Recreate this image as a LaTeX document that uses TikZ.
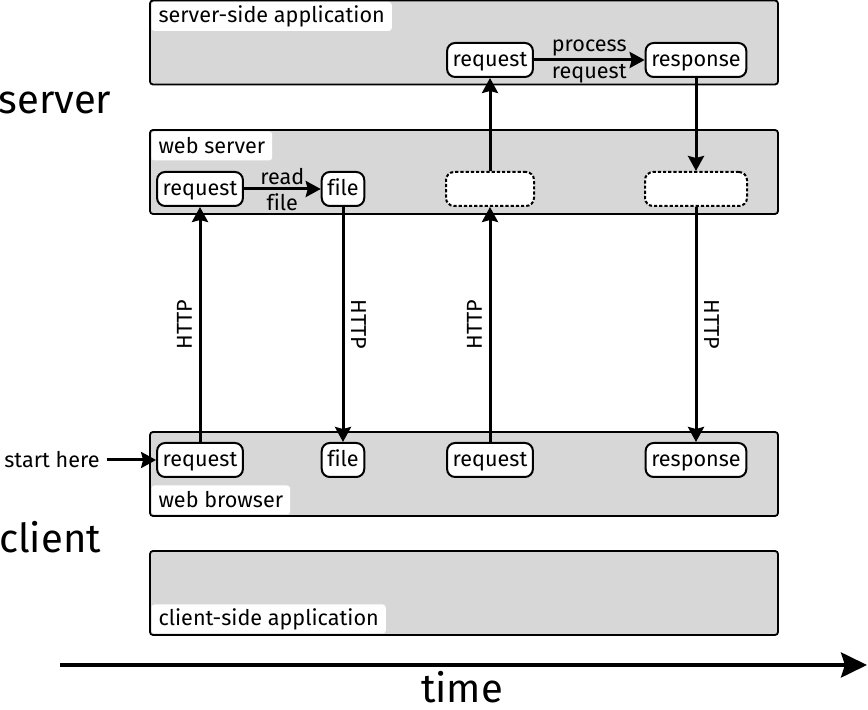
\documentclass[tikz,border=0pt]{standalone}
\usepackage{xcolor}
\usepackage{fontspec}
\setmainfont[Ligatures=NoCommon]{Fira Sans}
\usepackage{tikz}
\usetikzlibrary{arrows.meta, positioning}
\definecolor{lanegray}{RGB}{215,215,215}

\begin{document}
\begin{tikzpicture}[x=0.5pt, y=-0.5pt,
    font=\fontsize{10.8}{12}\selectfont,
    lane/.style={draw, rectangle, rounded corners=1.5pt, fill=lanegray, line width=0.9pt, minimum width=314pt, minimum height=42pt},
    tag/.style={fill=white, rounded corners=1.5pt, inner xsep=3.5pt, inner ysep=0pt, minimum height=14.5pt},
    msg/.style={draw, fill=white, rounded corners=4pt, line width=1pt, inner xsep=2.8pt, inner ysep=0pt, minimum height=17pt, text height=7pt, text depth=0.6pt},
    ghost/.style={msg, dash pattern=on 1.6pt off 1pt, minimum width=44pt},
    flow/.style={-{Stealth[length=7.5pt,width=8pt,inset=1pt]}, line width=1.5pt},
    side/.style={font=\fontsize{20}{24}\selectfont}]
    \useasboundingbox (0,0) rectangle (868,710);

    % lanes
    \node[lane] (app) at (464,42.5) {};
    \node[tag, anchor=north west] (appl) at ([shift={(1pt,-1pt)}]app.north west) {server-side application};
    \node[lane] (web) at (464,172) {};
    \node[tag, anchor=north west] (webl) at ([shift={(1pt,-1pt)}]web.north west) {web server};
    \node[lane] (brw) at (464,474) {};
    \node[tag, anchor=south west] (brwl) at ([shift={(1pt,1pt)}]brw.south west) {web browser};
    \node[lane] (cli) at (464,593) {};
    \node[tag, anchor=south west] (clil) at ([shift={(1pt,1pt)}]cli.south west) {client-side application};

    \node[side] (server) at (55,103) {server};
    \node[side] (client) at (50,537) {client};

    % server side
    \node[msg] (s1) at (490,60) {request};
    \node[msg] (s2) at (696,60) {response};
    \node[msg] (w1) at (200,189) {request};
    \node[msg] (w2) at (343,189) {file};
    \node[ghost] (g1) at (490,189) {};
    \node[ghost, minimum width=51pt] (g2) at (696,189) {};

    % client side
    \node[msg] (b1) at (200,460) {request};
    \node[msg] (b2) at (343,460) {file};
    \node[msg] (b3) at (490,460) {request};
    \node[msg] (b4) at (696,460) {response};
    \node (start) at (52,460) {start here};

    \draw[flow] (start) -- (b1);
    \draw[flow] (w1) -- node[above, inner sep=1.2pt] {read} node[below, inner sep=1.5pt] {file} (w2);
    \draw[flow] (s1) -- node[above, inner sep=1.2pt] {process} node[below, inner sep=1.5pt] {request} (s2);
    \draw[flow] (b1) -- node[midway, rotate=90, anchor=south] {HTTP} (w1);
    \draw[flow] (w2) -- node[midway, rotate=-90, anchor=south] {HTTP} (b2);
    \draw[flow] (b3) -- node[midway, rotate=90, anchor=south] {HTTP} (g1);
    \draw[flow] (g2) -- node[midway, rotate=-90, anchor=south] {HTTP} (b4);
    \draw[flow] (g1) -- (s1);
    \draw[flow] (s2) -- (g2);

    % time axis
    \coordinate (t0) at (60,665);
    \coordinate (t1) at (867,665);
    \draw[line width=2pt, -{Stealth[length=13pt,width=12.5pt,inset=2pt]}] (t0) -- (t1);
    \node[side] (time) at (462,687) {time};
\end{tikzpicture}
\end{document}
